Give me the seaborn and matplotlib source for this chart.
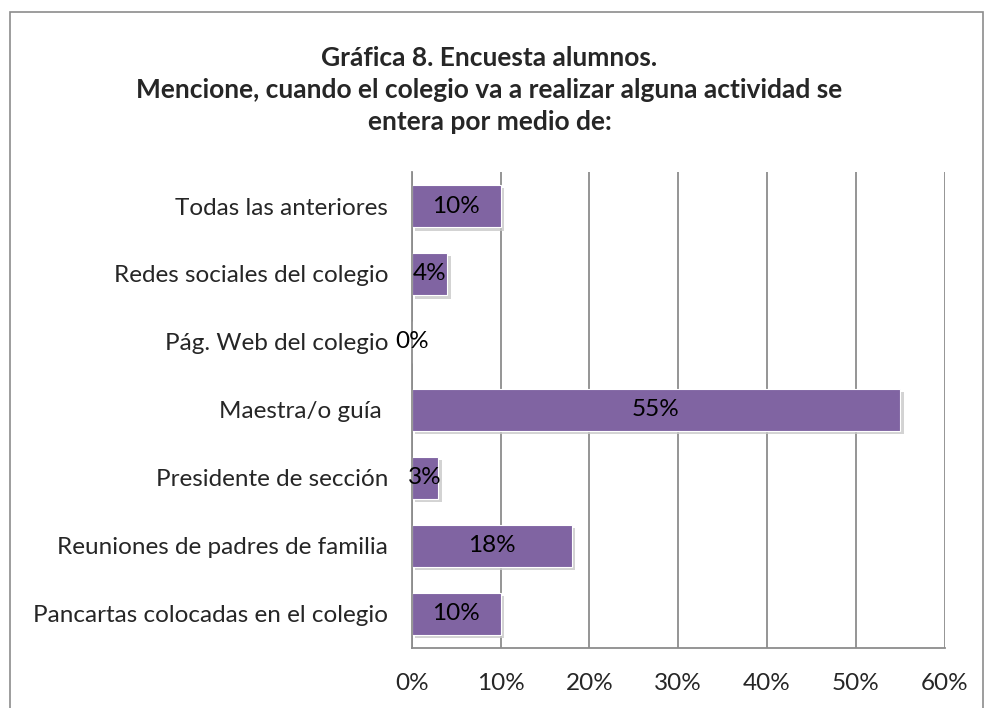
import matplotlib
matplotlib.use("Agg")
import matplotlib.pyplot as plt
import matplotlib.patheffects as pe
from matplotlib.patches import Rectangle
import seaborn as sns
import pandas as pd

# Data (top to bottom)
categories = ["Todas las anteriores", "Redes sociales del colegio", "Pág. Web del colegio",
              "Maestra/o guía ", "Presidente de sección", "Reuniones de padres de familia",
              "Pancartas colocadas en el colegio"]
values = [10, 4, 0, 55, 3, 18, 10]
xticks = [0, 10, 20, 30, 40, 50, 60]

df = pd.DataFrame({"categoria": categories, "porcentaje": values})

sns.set_style("white")
plt.rcParams['font.family'] = ['Lato', 'DejaVu Sans']

fig = plt.figure(figsize=(9.85, 7.08), dpi=100)
ax = fig.add_axes([0.418, 0.085, 0.541, 0.672])

ax.set_axisbelow(True)
for t in xticks:
    ax.axvline(t, color='#8c8c8c', lw=1.3, zorder=0)

sns.barplot(data=df, y="categoria", x="porcentaje", orient="h", color="#8064a2",
            saturation=1, width=0.62, edgecolor="white", linewidth=0.8, ax=ax, zorder=2)

for bar in ax.patches:
    bar.set_path_effects([pe.SimplePatchShadow(offset=(2.5, -2.5), shadow_rgbFace="#c8c8c8", alpha=0.8),
                          pe.Normal()])

for i, v in enumerate(values):
    ax.text(v / 2, i, f"{v}%", ha="center", va="center", fontsize=17.5, color="black", zorder=5)

ax.set_xlim(0, 60)
ax.set_ylim(6.5, -0.5)
ax.set_xticks(xticks)
ax.set_xticklabels([f"{t}%" for t in xticks], fontsize=17.5)
ax.tick_params(axis='x', length=0, pad=18)
ax.tick_params(axis='y', length=0, pad=17, labelsize=17.5)
ax.set_xlabel("")
ax.set_ylabel("")
for s in ["top", "right"]:
    ax.spines[s].set_visible(False)
for s in ["left", "bottom"]:
    ax.spines[s].set_color('#8c8c8c')
    ax.spines[s].set_linewidth(1.3)

fig.text(0.497, 0.873, "Gráfica 8. Encuesta alumnos.\nMencione, cuando el colegio va a realizar alguna actividad se\nentera por medio de:",
         ha="center", va="center", fontsize=19, fontweight="bold", linespacing=1.42)

fig.patches.append(Rectangle((0.01, -0.01), 0.988, 0.993, transform=fig.transFigure,
                             fill=False, edgecolor='#8c8c8c', lw=1.2))

fig.savefig("out.png", dpi=100)
